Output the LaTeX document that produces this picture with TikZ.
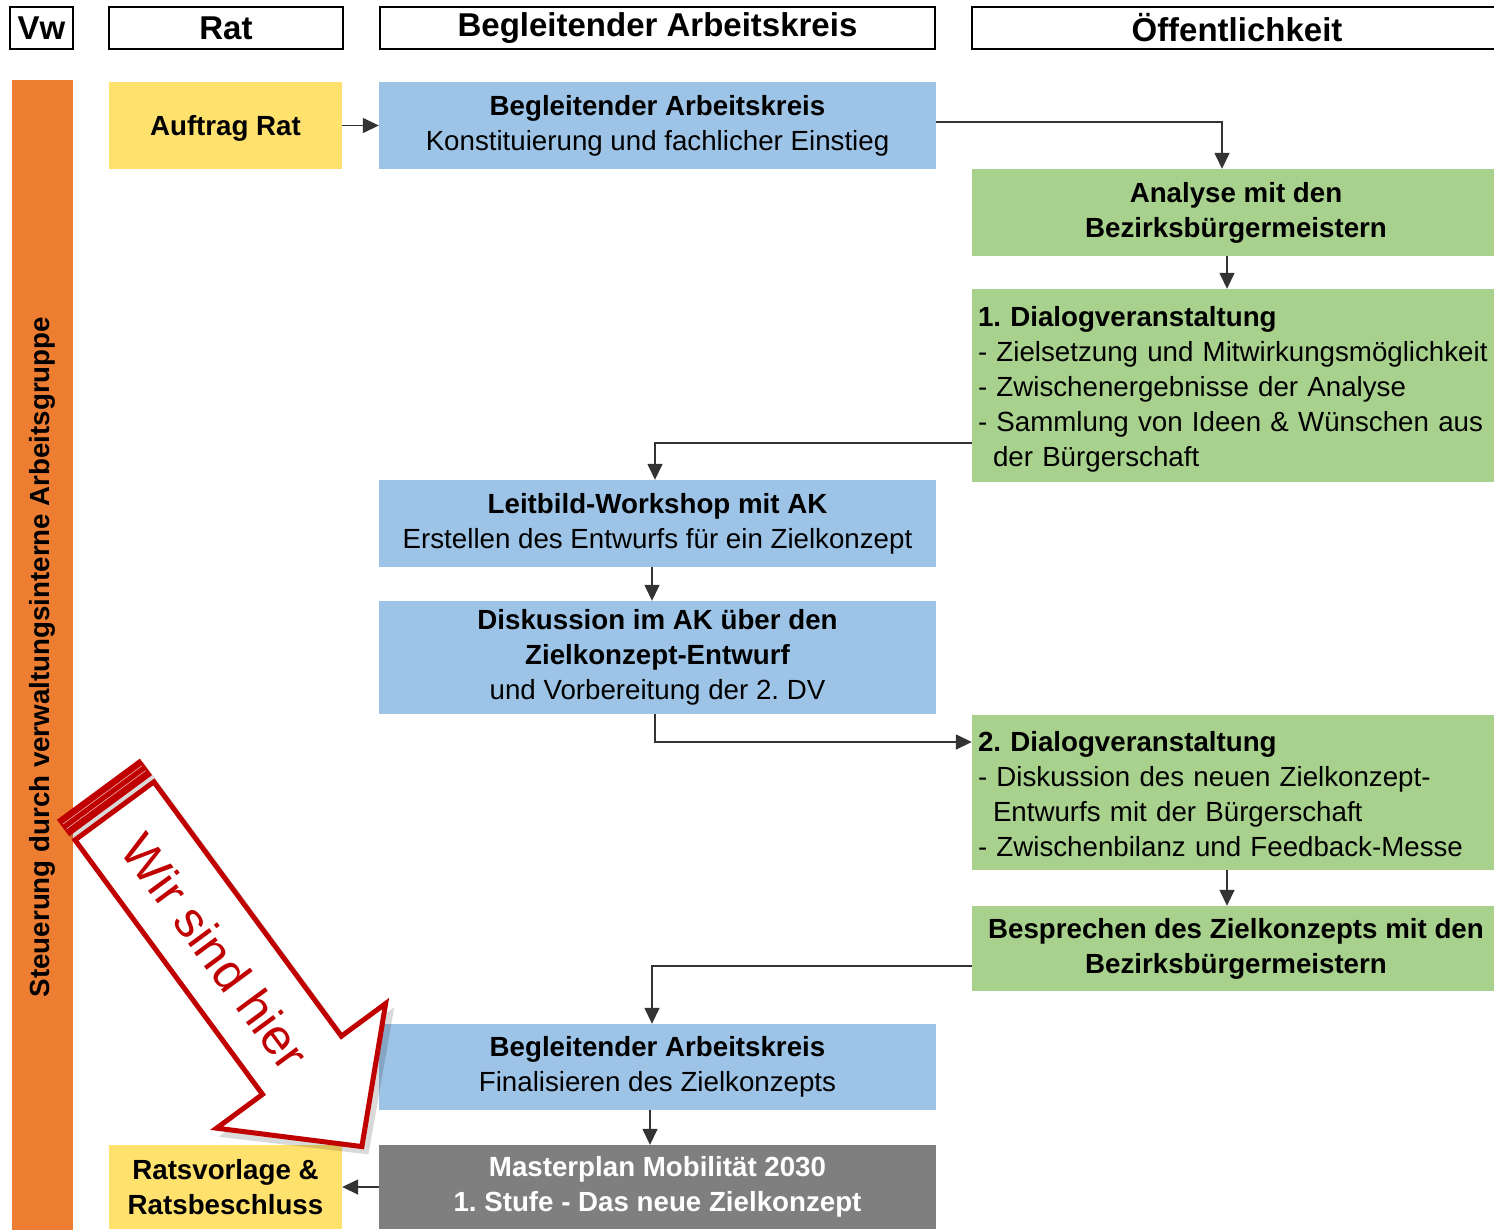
\documentclass[tikz,border=0pt]{standalone}
\usepackage{fontspec}
\setmainfont{Liberation Sans}
\usetikzlibrary{arrows.meta,calc}
\frenchspacing
\definecolor{vworange}{HTML}{ED7D31}
\definecolor{ratyellow}{HTML}{FFE16E}
\definecolor{akblue}{HTML}{9DC3E6}
\definecolor{oegreen}{HTML}{A9D18E}
\definecolor{mpgray}{HTML}{7F7F7F}
\definecolor{hierred}{HTML}{C00000}
\tikzset{
  hdr/.style={draw=black, line width=2.5pt, minimum height=42pt, inner sep=0pt,
    font=\fontsize{33}{36}\selectfont\bfseries},
  box/.style={inner sep=0pt, align=center, font=\fontsize{27.7}{35}\selectfont},
  bluebox/.style={box, fill=akblue, minimum width=557pt},
  greenbox/.style={box, fill=oegreen, minimum width=528pt},
  yellowbox/.style={box, fill=ratyellow, minimum width=233pt},
  leftbox/.style={greenbox, align=left, text width=516pt, inner xsep=6pt},
  conn/.style={draw=black!80, line width=1.5pt, -{Triangle[length=16pt,width=15pt]}},
  hierline/.style={draw=hierred, line width=5pt, line join=miter},
}
\begin{document}
\begin{tikzpicture}[x=1pt,y=-1pt]
\useasboundingbox (0,0) rectangle (1494,1229);

% headers
\node[hdr, minimum width=63pt] (hvw) at (41.5,28) {Vw};
\node[hdr, minimum width=234pt] (hrat) at (226,28) {Rat};
\node[hdr, minimum width=555pt] (hak) at (657.5,28) {Begleitender Arbeitskreis};
\node[hdr, minimum width=530pt] (hoe) at (1237,28) {Öffentlichkeit};

% orange bar
\node[fill=vworange, minimum width=61pt, minimum height=1150pt, inner sep=0pt] (vwbar) at (42.5,655) {};
\node[rotate=90, font=\fontsize{27.7}{32}\selectfont\bfseries] (vwtext) at (42,657) {Steuerung durch verwaltungsinterne Arbeitsgruppe};

% boxes
\node[yellowbox, minimum height=87pt, text depth=0pt] (auftrag) at (225.5,125.5) {\textbf{Auftrag Rat}};
\node[bluebox, minimum height=87pt] (ak1) at (657.5,125.5) {\textbf{Begleitender Arbeitskreis}\\Konstituierung und fachlicher Einstieg};
\node[greenbox, minimum height=87pt] (analyse) at (1236,212.5) {\textbf{Analyse mit den}\\\textbf{Bezirksbürgermeistern}};
\node[leftbox, minimum height=193pt] (dv1) at (1236,385.5) {};
\node[leftbox, fill=none] (dv1t) at (1236,389) {\textbf{1. Dialogveranstaltung}\\- Zielsetzung und Mitwirkungsmöglichkeit\\- Zwischenergebnisse der Analyse\\- Sammlung von Ideen \& Wünschen aus\\\hspace*{15pt}der Bürgerschaft};
\node[bluebox, minimum height=87pt] (leitbild) at (657.5,523.5) {\textbf{Leitbild-Workshop mit AK}\\Erstellen des Entwurfs für ein Zielkonzept};
\node[bluebox, minimum height=113pt] (disk) at (657.5,657.5) {\textbf{Diskussion im AK über den}\\\textbf{Zielkonzept-Entwurf}\\und Vorbereitung der 2. DV};
\node[leftbox, minimum height=155pt] (dv2) at (1236,792.5) {};
\node[leftbox, fill=none] (dv2t) at (1236,794) {\textbf{2. Dialogveranstaltung}\\- Diskussion des neuen Zielkonzept-\\\hspace*{15pt}Entwurfs mit der Bürgerschaft\\- Zwischenbilanz und Feedback-Messe};
\node[greenbox, minimum height=85pt] (bespr) at (1236,948.5) {\textbf{Besprechen des Zielkonzepts mit den}\\\textbf{Bezirksbürgermeistern}};
\node[bluebox, minimum height=86pt] (final) at (657.5,1067) {\textbf{Begleitender Arbeitskreis}\\Finalisieren des Zielkonzepts};
\node[box, fill=mpgray, minimum width=557pt, minimum height=84pt, text=white, font=\fontsize{27.7}{35}\selectfont\bfseries] (master) at (657.5,1187) {Masterplan Mobilität 2030\\1. Stufe - Das neue Zielkonzept};
\node[yellowbox, minimum height=84pt] (ratsv) at (225.5,1187) {\textbf{Ratsvorlage \&}\\\textbf{Ratsbeschluss}};

% connectors
\draw[conn] (auftrag) -- (ak1);
\draw[conn] ([yshift=3.5pt]ak1.east) -| ([xshift=-14pt]analyse.north);
\draw[conn] ([xshift=-9pt]analyse.south) -- ([xshift=-9pt]dv1.north);
\draw[conn] ([yshift=-57.5pt]dv1.west) -| ([xshift=-2.5pt]leitbild.north);
\draw[conn] ([xshift=-5.5pt]leitbild.south) -- ([xshift=-5.5pt]disk.north);
\draw[conn] ([xshift=-2.5pt]disk.south) |- ([yshift=50.5pt]dv2.west);
\draw[conn] ([xshift=-9pt]dv2.south) -- ([xshift=-9pt]bespr.north);
\draw[conn] ([yshift=-17.5pt]bespr.west) -| ([xshift=-5.5pt]final.north);
\draw[conn] ([xshift=-7.5pt]final.south) -- ([xshift=-7.5pt]master.north);
\draw[conn] (master) -- (ratsv);

% "Wir sind hier" arrow: shadow
\begin{scope}[shift={(78,843)}, rotate=-53.6]
  \fill[black, opacity=0.15] (-27,2.5) -- (320,2.5) -- (320,61) -- (423,-49) -- (320,-157) -- (320,-100.5) -- (-27,-100.5) -- cycle;
\end{scope}
% arrow
\begin{scope}[shift={(75,840)}, rotate=-53.6]
  \draw[hierline, fill=white] (0,0) -- (316,0) -- (316,57) -- (417,-49) -- (316,-153) -- (316,-98) -- (0,-98) -- cycle;
  \draw[hierline, fill=hierred] (-24.5,0) rectangle (-9,-98);
  \draw[white!70!hierred, line width=0.6pt] (-20,0) -- (-20,-98) (-14,0) -- (-14,-98);
  \node[rotate=-53.6, text=hierred, font=\fontsize{50}{55}\selectfont, inner sep=0pt] (hier) at (173,-47) {Wir sind hier};
\end{scope}
\end{tikzpicture}
\end{document}
